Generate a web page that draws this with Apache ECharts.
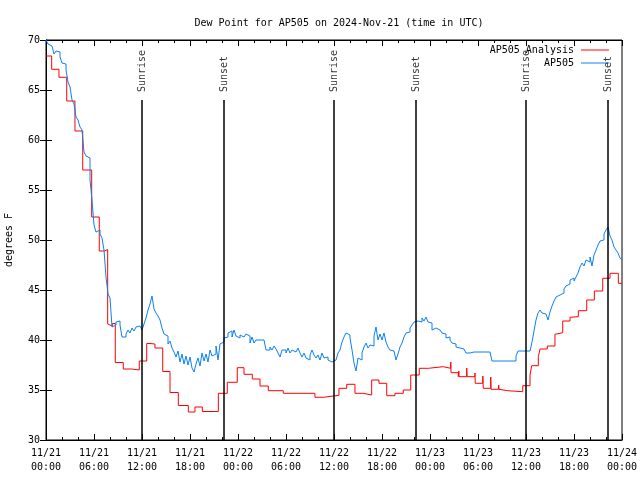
<!DOCTYPE html>
<html><head><meta charset="utf-8">
<script src="https://cdn.jsdelivr.net/npm/echarts/dist/echarts.min.js"></script>
<style>html,body{margin:0;padding:0;background:#fff}#c{width:640px;height:480px}</style>
</head><body><div id="c"></div>
<script>
// ---- data ----
const titleText = 'Dew Point for AP505 on 2024-Nov-21 (time in UTC)';
const xTickLabels = ['11/21\n00:00','11/21\n06:00','11/21\n12:00','11/21\n18:00','11/22\n00:00','11/22\n06:00','11/22\n12:00','11/22\n18:00','11/23\n00:00','11/23\n06:00','11/23\n12:00','11/23\n18:00','11/24\n00:00'];
const yAxisName = 'degrees F';
const seriesNames = ['AP505 Analysis', 'AP505'];

// sunrise / sunset (hours since 11/21 00:00 UTC)
const sunTimes = [12, 22.25, 36, 46.25, 60, 70.25];
const sunNames = ['Sunrise','Sunset','Sunrise','Sunset','Sunrise','Sunset'];

// analysis: step start times (hours) and values (deg F)
const redTimes = [0, 0.71, 1.62, 2.59, 3.62, 4.59, 5.71, 6.66, 7.29, 7.71, 7.87, 8.29, 8.66, 9.66, 10.71, 11.66, 12.59, 13.0, 13.62, 14.59, 15.5, 16.54, 17.79, 18.62, 19.54, 21.54, 22.66, 23.91, 24.75, 25.79, 26.75, 27.79, 29.66, 33.62, 34.66, 36.62, 37.59, 38.62, 39.66, 40.71, 41.62, 42.59, 43.62, 44.66, 45.59, 46.66, 47.79, 49.66, 50.59, 51.54, 53.62, 54.66, 55.59, 56.66, 57.71, 59.59, 60.5, 60.71, 61.54, 61.75, 62.66, 63.62, 63.84, 64.59, 65.5, 65.71, 66.54, 67.59, 68.54, 69.59, 70.5, 71.54, 72];
const redValues = [68.4, 67.07, 66.27, 63.9, 60.9, 57.0, 52.3, 48.9, 49.05, 41.6, 41.4, 41.65, 37.75, 37.1, 37.0, 37.9, 39.65, 39.6, 39.2, 36.85, 34.75, 33.45, 32.8, 33.3, 32.85, 34.67, 35.77, 37.23, 36.57, 36.1, 35.4, 34.93, 34.67, 34.27, 34.47, 35.17, 35.57, 34.67, 34.5, 36.0, 35.67, 34.43, 34.67, 35.0, 36.5, 37.17, 37.33, 37.17, 36.73, 36.33, 35.67, 35.17, 35.07, 34.93, 34.83, 35.43, 36.5, 37.43, 38.33, 39.1, 39.4, 40.57, 40.73, 41.9, 42.27, 42.33, 42.93, 44.0, 44.9, 46.17, 46.67, 45.67, 45.67];
// brief upward spikes in the analysis
const spikeTimes = [50.59, 51.6, 52.59, 53.62, 54.6, 55.59, 56.58];
const spikeValues = [37.8, 36.9, 37.2, 36.7, 36.4, 36.3, 35.5];

// observations every 15 minutes from 11/21 00:00
const blueStep = 0.25;
const blueValues = [
70.0,69.6,69.4,69.5, 68.6,68.9,68.8,68.3, 67.7,67.6,67.0,65.8, 65.3,64.0,63.6,62.3,
62.0,61.3,61.0,58.8, 58.4,58.2,56.0,54.0, 51.5,50.8,51.0,50.6, 50.2,49.0,46.3,44.6,
44.2,41.3,41.5,41.8, 41.9,41.5,40.3,40.3, 40.6,41.0,40.7,41.2, 40.9,41.3,41.4,41.2,
41.0,41.6,42.2,43.0, 43.6,44.4,43.1,42.7, 42.4,42.0,41.2,40.6, 40.4,39.6,39.9,39.2,
38.8,38.3,38.9,37.8, 38.6,37.6,38.4,37.5, 38.3,37.2,36.8,37.6, 38.2,37.4,38.7,37.9,
38.6,37.8,39.0,38.4, 38.6,39.4,38.0,39.6, 39.8,40.2,40.3,40.7, 40.9,40.3,41.0,40.4,
40.2,40.5,40.3,40.4, 40.6,40.4,39.7,40.3, 39.7,40.0,40.0,40.0, 40.0,40.0,39.0,39.0,
39.3,39.0,39.4,39.1, 38.7,38.3,39.0,39.0, 38.7,39.2,38.7,39.0, 38.8,38.7,39.2,38.7,
38.3,38.7,38.2,38.0, 38.5,39.0,38.5,38.2, 38.5,38.0,38.7,38.2, 38.3,38.0,37.8,37.7,
38.0,38.2,38.7,39.0, 39.8,40.3,40.7,40.5, 40.2,39.0,37.7,36.9, 38.2,38.0,38.7,39.3,
39.7,39.2,39.5,39.4, 40.4,41.3,40.0,40.6, 40.0,40.7,39.8,39.3, 39.0,38.9,38.7,38.0,
38.6,39.3,39.7,40.3, 40.7,40.8,41.2,41.5, 41.8,41.9,42.0,41.8, 42.2,41.9,42.3,41.8,
41.7,41.0,41.2,41.3, 41.0,40.9,40.7,40.6, 40.2,40.3,40.0,39.7, 39.6,39.3,39.2,39.0,
39.1,39.0,38.7,38.7, 38.7,38.8,38.8,38.8, 38.8,38.8,38.8,38.8, 38.8,38.8,38.8,37.9,
37.9,37.9,37.9,37.9, 37.9,37.9,37.9,37.9, 37.9,37.9,37.9,38.4, 38.9,38.9,38.9,38.9,
38.9,38.9,38.9,39.8, 40.9,42.0,42.7,43.0, 42.7,42.6,42.8,42.0, 42.8,43.4,43.9,44.3,
44.5,44.3,44.7,45.1, 45.4,45.6,46.0,46.2, 45.9,46.3,46.7,47.3, 47.7,47.4,48.0,47.8,
48.3,47.4,48.5,49.0, 49.5,49.9,50.0,50.6, 51.0,51.3,50.4,50.0, 49.3,49.0,48.7,48.2,
48.0
];

// ---- build series data ----
function valueAt(t) {
  let v = redValues[0];
  for (let i = 0; i < redTimes.length; i++) { if (redTimes[i] <= t + 1e-6) v = redValues[i]; }
  return v;
}
let redData = redTimes.map((t, i) => [t, redValues[i]]);
spikeTimes.forEach((t, i) => {
  const base = valueAt(t);
  redData = redData.filter(p => Math.abs(p[0] - t) > 1e-6);
  redData.push([t, spikeValues[i]]);
  redData.push([t + 0.04, base]);
});
redData.sort((a, b) => a[0] - b[0]);
const blueData = blueValues.map((v, i) => [i * blueStep, v]);

const FONT = 'DejaVu Sans Mono';
const RED = '#ff0000', BLUE = '#0a80f5';
const chart = echarts.init(document.getElementById('c'), null, {renderer: 'canvas'});
const axisCommon = {
  type: 'value', min: 0, max: 72, interval: 6,
  axisLine: {show: true, lineStyle: {color: '#000', width: 1}},
  axisTick: {show: true, inside: true, length: 6, lineStyle: {color: '#000'}},
  minorTick: {show: true, splitNumber: 3, length: 3, lineStyle: {color: '#000'}},
  splitLine: {show: false}
};
chart.setOption({
  animation: false,
  backgroundColor: '#fff',
  title: {text: titleText, left: 334, top: 13, textAlign: 'center',
    textStyle: {fontFamily: FONT, fontSize: 10, fontWeight: 'normal', color: '#000'}},
  grid: {left: 46, right: 18, top: 40, bottom: 40, show: true, borderColor: '#000', borderWidth: 1, containLabel: false, outerBoundsMode: 'none'},
  legend: {
    data: [
      {name: seriesNames[0], icon: 'rect', itemStyle: {color: RED}},
      {name: seriesNames[1], icon: 'rect', itemStyle: {color: BLUE}}
    ],
    orient: 'vertical', align: 'right', right: 31, top: 44, padding: 0,
    itemWidth: 28, itemHeight: 1, itemGap: 1,
    textStyle: {fontFamily: FONT, fontSize: 10, color: '#000', padding: [0, 2, 0, 0], lineHeight: 12}
  },
  xAxis: [
    Object.assign({}, axisCommon, {position: 'bottom',
      axisLabel: {show: true, margin: 6, lineHeight: 14, fontFamily: FONT, fontSize: 10, color: '#000',
        formatter: v => xTickLabels[Math.round(v / 6)]}}),
    Object.assign({}, axisCommon, {position: 'top', axisLabel: {show: false}})
  ],
  yAxis: [
    {type: 'value', min: 30, max: 70, interval: 5, position: 'left', name: yAxisName, nameLocation: 'middle', nameGap: 32,
      nameTextStyle: {fontFamily: FONT, fontSize: 10, color: '#000'},
      axisLine: {show: true, lineStyle: {color: '#000', width: 1}},
      axisTick: {show: true, inside: true, length: 6, lineStyle: {color: '#000'}},
      splitLine: {show: false},
      axisLabel: {show: true, margin: 6, fontFamily: FONT, fontSize: 10, color: '#000'}},
    {type: 'value', min: 30, max: 70, interval: 5, position: 'right',
      axisLine: {show: true, lineStyle: {color: '#000', width: 1}},
      axisTick: {show: true, inside: true, length: 6, lineStyle: {color: '#000'}},
      splitLine: {show: false},
      axisLabel: {show: false}}
  ],
  series: [
    {name: seriesNames[0], type: 'line', step: 'end', data: redData, showSymbol: false, symbol: 'none',
      lineStyle: {color: RED, width: 1}, itemStyle: {color: RED}, z: 3},
    {name: seriesNames[1], type: 'line', step: 'end', data: blueData, showSymbol: false, symbol: 'none',
      lineStyle: {color: BLUE, width: 1}, itemStyle: {color: BLUE}, z: 4},
    {name: 'sun', type: 'scatter', symbolSize: 0, z: 5,
      data: sunTimes.map((t, i) => ({name: sunNames[i], value: [t, 64.8]})),
      label: {show: true, formatter: '{b}', rotate: 90, position: 'inside', align: 'left', verticalAlign: 'middle',
        fontFamily: FONT, fontSize: 10, color: '#000'},
      markLine: {silent: true, symbol: ['none', 'none'], label: {show: false},
        lineStyle: {color: '#000', width: 1.5, type: 'solid'},
        data: sunTimes.map(t => [{coord: [t, 30]}, {coord: [t, 64]}])}
    }
  ]
});
</script></body></html>
